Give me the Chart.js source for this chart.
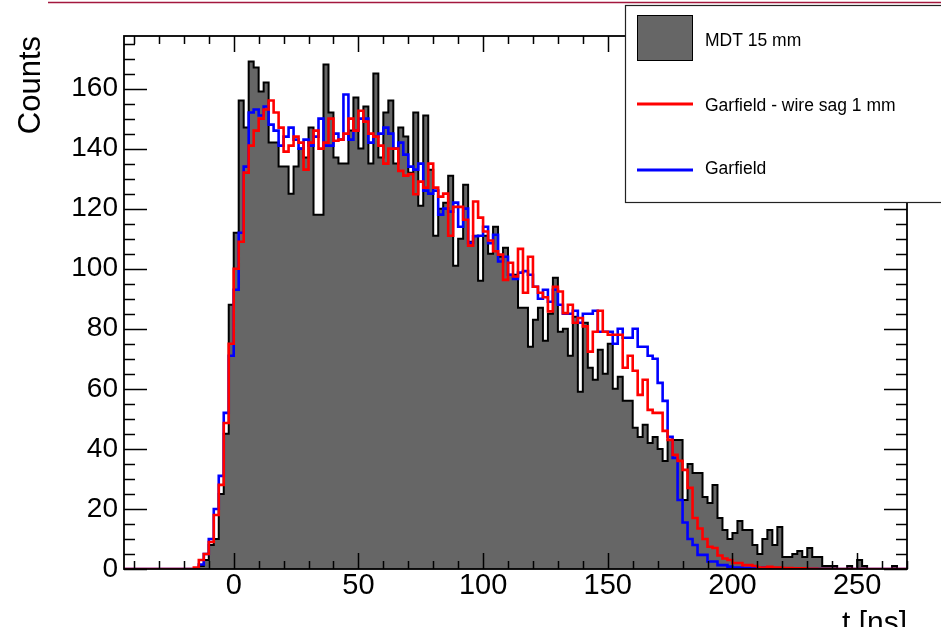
<!DOCTYPE html>
<html><head><meta charset="utf-8">
<script src="https://cdn.jsdelivr.net/npm/chart.js@4.4.0/dist/chart.umd.min.js"></script>
<style>html,body{margin:0;padding:0;background:#fff;}canvas{display:block;}</style>
</head><body>
<canvas id="c" width="941" height="627"></canvas>
<script>
// ---- data (2 ns bins, low edges from -44 ns to 268 ns) ----
const FIRST_EDGE = -44;
const BIN_WIDTH = 2;
const xTickValues = [0, 50, 100, 150, 200, 250];
const yTickValues = [0, 20, 40, 60, 80, 100, 120, 140, 160];
const seriesNames = ['MDT 15 mm', 'Garfield - wire sag 1 mm', 'Garfield'];

const mdtCounts = [
  0,0,0,0,0,0,0,0,0,0,
  0,0,0,0,0,0,1,3,8,10,
  25,45,88,112,156,147,169,167,159,162,
  142,142,134,134,125,134,140,137,147,118,
  118,168,152,137,135,135,146,157,140,154,
  135,165,137,152,156,135,147,144,132,152,
  121,151,133,111,120,122,131,101,110,128,
  109,111,96,111,105,114,104,107,98,98,
  87,87,74,83,87,76,85,97,79,80,
  71,84,59,82,67,63,73,65,75,60,
  64,56,56,47,44,48,42,44,40,36,
  43,43,43,23,35,32,32,24,22,28,
  17,13,10,12,16,13,13,8,5,10,
  13,8,14,4,4,5,6,4,7,4,
  4,1,1,1,0,0,1,0,3,1,
  0,0,0,0,0,1,0
];

const garfieldSag = [
  0,0,0,0,0,0,0,0,0,0,
  0,0,0,0,0,0.5,3,5,9,18,
  28,48.6,75,100,109,132,141,146,150,153,
  156,152,147,139,141,144,142,133,142,146,
  140,142,150,142.6,143,145,150,146,152.6,149,
  145,144,141,135,140,140,132.6,131,131.5,124.8,
  129,127,135,127,124,125,111,120.6,120.6,116.3,
  107.7,122.4,117,112.4,109.4,105.8,104.7,96.3,102,97.4,
  106.6,92,104,94,92,90.5,85.8,94,92.4,85.2,
  88,82,83.6,80.8,72.4,79,86,79,78,78,
  78,67,71,66,58,63,53,52,52,46,
  43,38,36,33,27,17,13.5,10,7.4,7,
  4.5,3.5,3,2,2,1.3,1.3,1,0.5,0.5,
  0.7,0.5,0.5,0.3,0.3,0.2,0.2,0.2,0.1,0.1,
  0,0,0,0,0,0,0,0,0,0,
  0,0,0,0,0,0,0
];

const garfield = [
  0,0,0,0,0,0,0,0,0,0,
  0,0,0,0,0,0,1.5,5,10,20,
  31,52,71,93,112,134,152,153,151,154,
  148,146,141,144,147,143,140,143,141,144,
  150,141,141,145,143,158,143,146,150,150,
  142,144,145,147,145,140,142,138,134,133,
  135,126,125,126,118,120,119,122,114,120,
  108.6,110.8,111,114,108.5,111.3,102.4,104,98,96.6,
  98.7,99.2,98,94,90,93,89,93,88,85,
  85,86,82,85,85,86,79,79,79,75,
  80,77,77,80,74,74,71,70,62,56,
  44,37,23,15.5,10,8,4.7,4.7,2.5,2.5,
  1.3,1.3,0.8,0.5,0.5,0.3,0.3,0.2,0.2,0.5,
  0.2,0.2,0.2,0.1,0.1,0.1,0,0,0,0,
  0,0,0,0,0,0,0,0,0,0,
  0,0,0,0,0,0,0
];

// ---- build step points from bin edges ----
const binEdges = mdtCounts.map((_, i) => FIRST_EDGE + i * BIN_WIDTH);
function toSteps(vals) {
  const pts = binEdges.map((x, i) => ({ x: x, y: vals[i] }));
  pts.push({ x: binEdges[binEdges.length - 1] + BIN_WIDTH, y: vals[vals.length - 1] });
  return pts;
}
const X_MIN = FIRST_EDGE;
const X_MAX = binEdges[binEdges.length - 1] + BIN_WIDTH;

const FONT = 'Liberation Sans, Arial, Helvetica, sans-serif';
Chart.defaults.font.family = FONT;

// ROOT-like frame with inner ticks on all four sides
const framePlugin = {
  id: 'frame',
  afterDatasetsDraw(chart) {
    const { ctx, chartArea: a, scales: { x, y } } = chart;
    ctx.save();
    ctx.strokeStyle = '#000';
    ctx.lineWidth = 1.5;
    ctx.beginPath();
    for (let v = -40; v <= X_MAX; v += 10) {
      const px = Math.round(x.getPixelForValue(v)) + 0.5;
      const len = (v % 50 === 0) ? 16 : 8;
      ctx.moveTo(px, a.bottom); ctx.lineTo(px, a.bottom - len);
      ctx.moveTo(px, a.top); ctx.lineTo(px, a.top + len);
    }
    for (let v = 0; v <= y.max; v += 5) {
      const py = Math.round(y.getPixelForValue(v)) + 0.5;
      const len = (v % 20 === 0) ? 23 : 11;
      ctx.moveTo(a.left, py); ctx.lineTo(a.left + len, py);
      ctx.moveTo(a.right, py); ctx.lineTo(a.right - len, py);
    }
    ctx.stroke();
    ctx.lineWidth = 1.8;
    ctx.strokeRect(a.left, a.top, a.right - a.left, a.bottom - a.top);
    ctx.restore();
  },
  afterDraw(chart) {
    const ctx = chart.ctx;
    ctx.save();
    // thin line at the very top
    ctx.strokeStyle = '#a3173d';
    ctx.lineWidth = 1.3;
    ctx.beginPath(); ctx.moveTo(48, 2.5); ctx.lineTo(941, 2.5); ctx.stroke();
    // legend box
    ctx.fillStyle = '#fff';
    ctx.fillRect(625, 5, 330, 198);
    ctx.strokeStyle = '#222';
    ctx.lineWidth = 1.2;
    ctx.strokeRect(625.5, 5.5, 330, 197);
    // entries
    ctx.fillStyle = '#666666';
    ctx.fillRect(637, 15, 56, 46);
    ctx.strokeStyle = '#000';
    ctx.lineWidth = 1;
    ctx.strokeRect(637.5, 15.5, 55, 45);
    ctx.lineWidth = 3;
    ctx.strokeStyle = '#ff0000';
    ctx.beginPath(); ctx.moveTo(637, 104); ctx.lineTo(693, 104); ctx.stroke();
    ctx.strokeStyle = '#0000ff';
    ctx.beginPath(); ctx.moveTo(637, 170); ctx.lineTo(693, 170); ctx.stroke();
    ctx.fillStyle = '#000';
    ctx.font = '17.5px ' + FONT;
    ctx.textBaseline = 'middle';
    ctx.textAlign = 'left';
    ctx.fillText(seriesNames[0], 705, 41);
    ctx.fillText(seriesNames[1], 705, 106);
    ctx.fillText(seriesNames[2], 705, 169);
    ctx.restore();
  }
};

new Chart(document.getElementById('c'), {
  type: 'line',
  data: {
    datasets: [
      { label: seriesNames[0], data: toSteps(mdtCounts), stepped: 'after', borderColor: '#000', borderWidth: 2,
        backgroundColor: '#666666', fill: 'origin', pointRadius: 0, order: 3, borderJoinStyle: 'miter' },
      { label: seriesNames[2], data: toSteps(garfield), stepped: 'after', borderColor: '#0000ff', borderWidth: 2.6,
        fill: false, pointRadius: 0, order: 2, borderJoinStyle: 'miter' },
      { label: seriesNames[1], data: toSteps(garfieldSag), stepped: 'after', borderColor: '#ff0000', borderWidth: 2.6,
        fill: false, pointRadius: 0, order: 1, borderJoinStyle: 'miter' }
    ]
  },
  options: {
    responsive: false,
    animation: false,
    devicePixelRatio: 1,
    layout: { padding: { left: 0, right: 34, top: 36, bottom: 0 } },
    plugins: { legend: { display: false }, tooltip: { enabled: false } },
    scales: {
      x: {
        type: 'linear', min: X_MIN, max: X_MAX,
        grid: { display: false, drawTicks: false }, border: { display: false },
        ticks: { color: '#000', font: { size: 29 }, padding: 0, maxRotation: 0, autoSkip: false },
        afterBuildTicks: s => { s.ticks = xTickValues.map(v => ({ value: v })); },
        afterFit: s => { s.height = 58; },
        title: { display: true, text: 't [ns]', align: 'end', color: '#000', font: { size: 30 }, padding: { top: 0, bottom: -15 } }
      },
      y: {
        type: 'linear', min: 0, max: 177.5,
        grid: { display: false, drawTicks: false }, border: { display: false },
        ticks: { color: '#000', font: { size: 28 }, padding: 6 },
        afterBuildTicks: s => { s.ticks = yTickValues.map(v => ({ value: v })); },
        afterFit: s => { s.width = 124; },
        title: { display: true, text: 'Counts', align: 'end', color: '#000', font: { size: 31 }, padding: { top: 13, bottom: 0 } }
      }
    }
  },
  plugins: [framePlugin]
});
</script>
</body></html>
